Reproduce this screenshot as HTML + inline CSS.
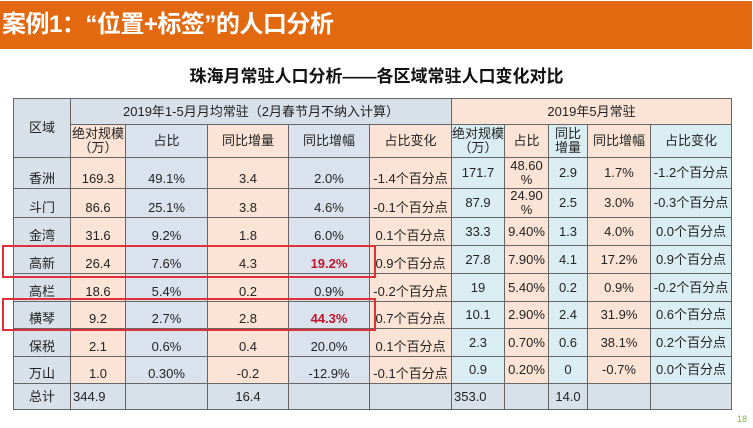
<!DOCTYPE html>
<html><head><meta charset="utf-8"><style>
body{margin:0;width:753px;height:428px;background:#fff;position:relative;overflow:hidden;font-family:"Liberation Sans","Noto Sans CJK SC",sans-serif}
.ban{position:absolute;left:0;top:1px;width:752px;height:48px;background:#e2690f;color:#fff;font-size:24px;font-weight:bold;line-height:48px;padding-left:2px;box-sizing:border-box;letter-spacing:-0.5px}
.tt{position:absolute;top:62px;left:0;width:753px;text-align:center;font-size:17px;font-weight:bold;color:#111}
table{position:absolute;left:13px;top:98px;border-collapse:collapse;table-layout:fixed;font-size:13px;color:#222}
td{border:1px solid #666;text-align:center;padding:0;line-height:14px;overflow:hidden;white-space:nowrap}
td.w{white-space:normal}
.g{background:#d8e0ea}.p{background:#fbe4d5}.b{background:#dae3ed}.l{background:#daedf3}
.bt td{vertical-align:bottom;padding-bottom:2px}
.bt td.m{vertical-align:middle;padding-bottom:0}
.r{color:#c0152a;font-weight:bold}
.box{position:absolute;border:2px solid #e0303a;left:2px;width:370px}
.pg{position:absolute;right:6px;bottom:4px;font-size:9px;color:#8ab04a}
</style></head><body>
<div class="ban">案例1：“位置+标签”的人口分析</div>
<div class="tt">珠海月常驻人口分析——各区域常驻人口变化对比</div>
<table>
<colgroup><col style="width:57px"><col style="width:55px"><col style="width:82px"><col style="width:81px"><col style="width:81px"><col style="width:82px"><col style="width:53px"><col style="width:44px"><col style="width:39px"><col style="width:63px"><col style="width:81px"></colgroup>
<tr style="height:26px"><td class="g" rowspan="2">区域</td><td class="g" colspan="5">2019年1-5月月均常驻（2月春节月不纳入计算）</td><td class="p" colspan="5">2019年5月常驻</td></tr>
<tr style="height:33px"><td class="p w">绝对规模（万）</td><td class="b">占比</td><td class="p">同比增量</td><td class="b">同比增幅</td><td class="p">占比变化</td><td class="l w">绝对规模（万）</td><td class="p">占比</td><td class="l w">同比增量</td><td class="p">同比增幅</td><td class="l">占比变化</td></tr>
<tr class="bt" style="height:31px"><td class="g">香洲</td><td class="p">169.3</td><td class="b">49.1%</td><td class="p">3.4</td><td class="b">2.0%</td><td class="p">-1.4个百分点</td><td class="l m">171.7</td><td class="p m w">48.60<br>%</td><td class="l m">2.9</td><td class="p m">1.7%</td><td class="l m">-1.2个百分点</td></tr>
<tr class="bt" style="height:29px"><td class="g">斗门</td><td class="p">86.6</td><td class="b">25.1%</td><td class="p">3.8</td><td class="b">4.6%</td><td class="p">-0.1个百分点</td><td class="l m">87.9</td><td class="p m w">24.90<br>%</td><td class="l m">2.5</td><td class="p m">3.0%</td><td class="l m">-0.3个百分点</td></tr>
<tr class="bt" style="height:28px"><td class="g">金湾</td><td class="p">31.6</td><td class="b">9.2%</td><td class="p">1.8</td><td class="b">6.0%</td><td class="p">0.1个百分点</td><td class="l m">33.3</td><td class="p m">9.40%</td><td class="l m">1.3</td><td class="p m">4.0%</td><td class="l m">0.0个百分点</td></tr>
<tr class="bt" style="height:28px"><td class="g">高新</td><td class="p">26.4</td><td class="b">7.6%</td><td class="p">4.3</td><td class="b r">19.2%</td><td class="p">0.9个百分点</td><td class="l m">27.8</td><td class="p m">7.90%</td><td class="l m">4.1</td><td class="p m">17.2%</td><td class="l m">0.9个百分点</td></tr>
<tr class="bt" style="height:28px"><td class="g">高栏</td><td class="p">18.6</td><td class="b">5.4%</td><td class="p">0.2</td><td class="b">0.9%</td><td class="p">-0.2个百分点</td><td class="l m">19</td><td class="p m">5.40%</td><td class="l m">0.2</td><td class="p m">0.9%</td><td class="l m">-0.2个百分点</td></tr>
<tr class="bt" style="height:27px"><td class="g">横琴</td><td class="p">9.2</td><td class="b">2.7%</td><td class="p">2.8</td><td class="b r">44.3%</td><td class="p">0.7个百分点</td><td class="l m">10.1</td><td class="p m">2.90%</td><td class="l m">2.4</td><td class="p m">31.9%</td><td class="l m">0.6个百分点</td></tr>
<tr class="bt" style="height:28px"><td class="g">保税</td><td class="p">2.1</td><td class="b">0.6%</td><td class="p">0.4</td><td class="b">20.0%</td><td class="p">0.1个百分点</td><td class="l m">2.3</td><td class="p m">0.70%</td><td class="l m">0.6</td><td class="p m">38.1%</td><td class="l m">0.2个百分点</td></tr>
<tr class="bt" style="height:27px"><td class="g">万山</td><td class="p">1.0</td><td class="b">0.30%</td><td class="p">-0.2</td><td class="b">-12.9%</td><td class="p">-0.1个百分点</td><td class="l m">0.9</td><td class="p m">0.20%</td><td class="l m">0</td><td class="p m">-0.7%</td><td class="l m">0.0个百分点</td></tr>
<tr style="height:26px" class="g"><td>总计</td><td style="text-align:left;padding-left:2px">344.9</td><td></td><td>16.4</td><td></td><td></td><td style="text-align:left;padding-left:2px">353.0</td><td></td><td>14.0</td><td></td><td></td></tr>
</table>
<div class="box" style="top:245px;height:29px"></div>
<div class="box" style="top:298px;height:29px"></div>
<div class="pg">18</div>
</body></html>
